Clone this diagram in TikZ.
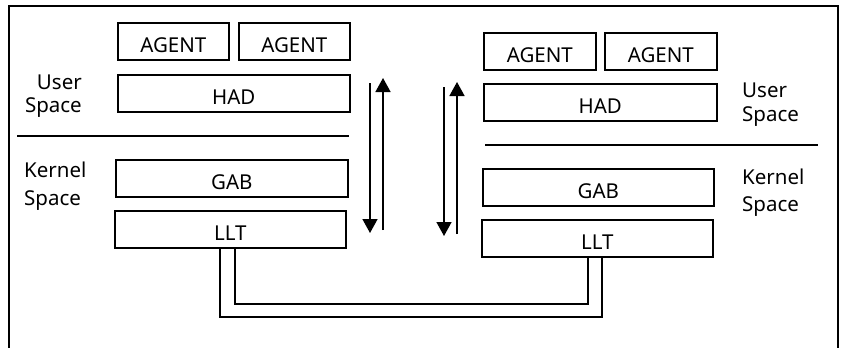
\documentclass[tikz,border=0pt]{standalone}
\usepackage{fontspec}
\setmainfont{Noto Sans}
\usetikzlibrary{arrows.meta}
\begin{document}
\begin{tikzpicture}[x=1pt,y=-1pt,
  box/.style={draw,line width=1.6pt,minimum height=37pt,inner sep=0pt,text height=22.5pt,text depth=0pt,font=\fontsize{20.5}{22}\selectfont,anchor=north west},
  lbl/.style={inner sep=0pt},
  ln/.style={line width=1.6pt},
  arr/.style={line width=1.6pt,-{Triangle[width=15pt,length=14pt]}}]
\useasboundingbox (0,0) rectangle (846,348);
\clip (0,0) rectangle (846,348);
\draw[ln] (9,360) -- (9,6) -- (838,6) -- (838,360);
% left
\node[box,minimum width=111pt] (a1) at (117,22) {AGENT};
\node[box,minimum width=111pt] (a2) at (238,22) {AGENT};
\node[box,minimum width=232pt] (had1) at (117,74) {HAD};
\node[box,minimum width=232pt] (gab1) at (115,159) {GAB};
\node[box,minimum width=231pt] (llt1) at (114,210) {LLT};
\node[lbl,align=right,anchor=north east,font=\fontsize{20.5}{23}\selectfont] (us1) at (82,75) {User\\Space};
\node[lbl,align=left,anchor=north west,font=\fontsize{20.5}{28}\selectfont] (ks1) at (24,162) {Kernel\\Space};
\coordinate (s1a) at (17,136); \coordinate (s1b) at (349,136);
\draw[ln] (s1a) -- (s1b);
% right
\node[box,minimum width=112pt] (a3) at (483,32) {AGENT};
\node[box,minimum width=112pt] (a4) at (604,32) {AGENT};
\node[box,minimum width=233pt] (had2) at (483,83) {HAD};
\node[box,minimum width=231pt] (gab2) at (482,168) {GAB};
\node[box,minimum width=231pt] (llt2) at (481,219) {LLT};
\node[lbl,align=left,anchor=north west,font=\fontsize{20.5}{24}\selectfont] (us2) at (742,83) {User\\Space};
\node[lbl,align=left,anchor=north west,font=\fontsize{20.5}{27}\selectfont] (ks2) at (742,169) {Kernel\\Space};
\coordinate (s2a) at (485,145); \coordinate (s2b) at (818,145);
\draw[ln] (s2a) -- (s2b);
% arrows
\coordinate (d1s) at (370,83); \coordinate (d1e) at (370,233);
\coordinate (u1s) at (383,230); \coordinate (u1e) at (383,78);
\coordinate (d2s) at (444,87); \coordinate (d2e) at (444,236);
\coordinate (u2s) at (457,234); \coordinate (u2e) at (457,82);
\draw[arr] (d1s) -- (d1e);
\draw[arr] (u1s) -- (u1e);
\draw[arr] (d2s) -- (d2e);
\draw[arr] (u2s) -- (u2e);
% double connector
\coordinate (o1) at (llt1.south -| 220,0); \coordinate (i1) at (llt1.south -| 235,0);
\coordinate (o2) at (llt2.south -| 602,0); \coordinate (i2) at (llt2.south -| 588,0);
\draw[ln] (o1) -- (220,317) -- (602,317) -- (o2);
\draw[ln] (i1) -- (235,304) -- (588,304) -- (i2);
\end{tikzpicture}
\end{document}
